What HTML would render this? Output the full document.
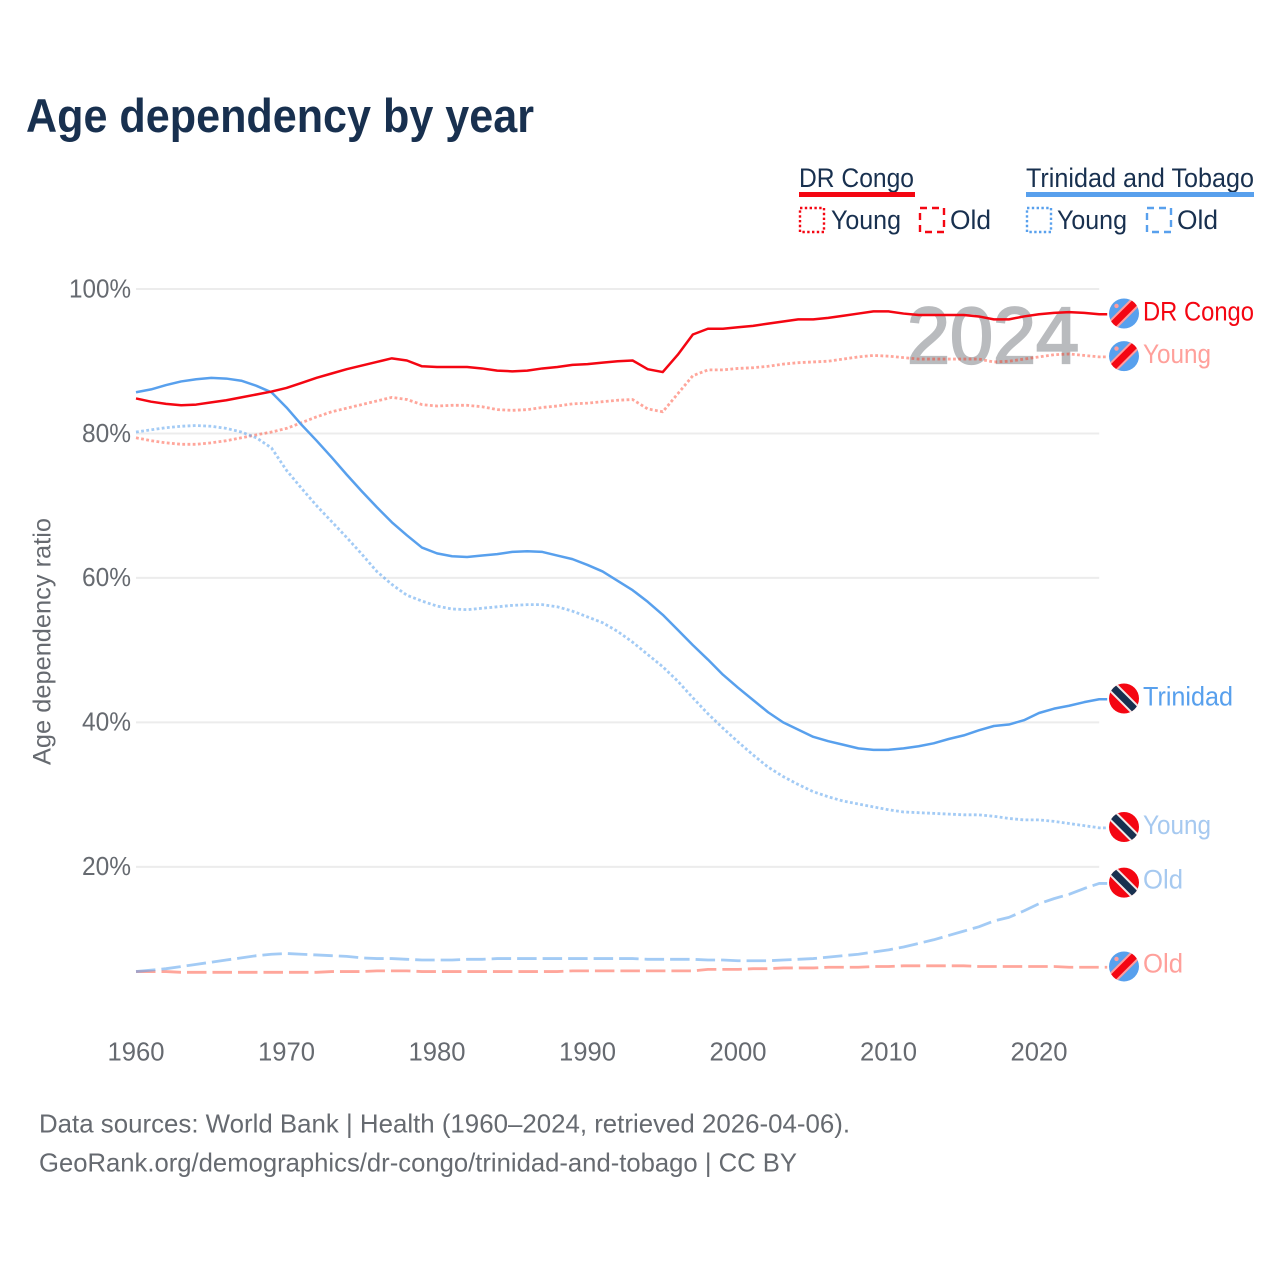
<!DOCTYPE html>
<html lang="en">
<head>
<meta charset="utf-8">
<title>Age dependency by year</title>
<style>
html,body{margin:0;padding:0;background:#fff}
svg{display:block;font-family:"Liberation Sans",sans-serif}
</style>
</head>
<body>
<svg id="chart" xmlns="http://www.w3.org/2000/svg" width="1280" height="1280" viewBox="0 0 1280 1280">
  <rect width="1280" height="1280" fill="#ffffff"/>
  <text x="26" y="132" font-size="47" font-weight="700" fill="#18304f" textLength="508" lengthAdjust="spacingAndGlyphs">Age dependency by year</text>

  <g font-size="27" fill="#18304f">
    <text x="799" y="187" textLength="115" lengthAdjust="spacingAndGlyphs">DR Congo</text>
    <rect x="799" y="192" width="116" height="5" fill="#f40612"/>
    <text x="1026" y="187" textLength="228" lengthAdjust="spacingAndGlyphs">Trinidad and Tobago</text>
    <rect x="1026" y="192" width="228" height="5" fill="#58a0ed"/>

    <rect x="800" y="208" width="24" height="24" fill="none" stroke="#f40612" stroke-width="2.4" stroke-dasharray="2.4 2.4"/>
    <text x="831" y="229" textLength="70" lengthAdjust="spacingAndGlyphs">Young</text>
    <rect x="920" y="208" width="24" height="24" fill="none" stroke="#f40612" stroke-width="2.4" stroke-dasharray="7 5"/>
    <text x="950" y="229" textLength="41" lengthAdjust="spacingAndGlyphs">Old</text>
    <rect x="1027" y="208" width="24" height="24" fill="none" stroke="#58a0ed" stroke-width="2.4" stroke-dasharray="2.4 2.4"/>
    <text x="1057" y="229" textLength="70" lengthAdjust="spacingAndGlyphs">Young</text>
    <rect x="1147" y="208" width="24" height="24" fill="none" stroke="#58a0ed" stroke-width="2.4" stroke-dasharray="7 5"/>
    <text x="1177" y="229" textLength="41" lengthAdjust="spacingAndGlyphs">Old</text>
  </g>

  <g id="grid"></g>
  <g id="y-ticks"></g>
  <g id="x-ticks"></g>
  <text transform="translate(50.5,641.5) rotate(-90)" text-anchor="middle" font-size="25" fill="#666a70" textLength="247" lengthAdjust="spacingAndGlyphs">Age dependency ratio</text>
  <text x="907" y="363" font-size="80" font-weight="400" fill="#b9bbbe" stroke="#b9bbbe" stroke-width="2.2" textLength="172" lengthAdjust="spacingAndGlyphs">2024</text>
  <g id="series"></g>
  <g id="end-labels"></g>

  <g font-size="26" fill="#666a70">
    <text x="39" y="1132.5" textLength="811" lengthAdjust="spacingAndGlyphs">Data sources: World Bank | Health (1960–2024, retrieved 2026-04-06).</text>
    <text x="39" y="1171.5" textLength="758" lengthAdjust="spacingAndGlyphs">GeoRank.org/demographics/dr-congo/trinidad-and-tobago | CC BY</text>
  </g>
</svg>
<script>
const years = [1960,1961,1962,1963,1964,1965,1966,1967,1968,1969,
  1970,1971,1972,1973,1974,1975,1976,1977,1978,1979,
  1980,1981,1982,1983,1984,1985,1986,1987,1988,1989,
  1990,1991,1992,1993,1994,1995,1996,1997,1998,1999,
  2000,2001,2002,2003,2004,2005,2006,2007,2008,2009,
  2010,2011,2012,2013,2014,2015,2016,2017,2018,2019,
  2020,2021,2022,2023,2024];
const congoTotal = [84.85,84.4,84.1,83.9,84.0,84.3,84.6,85.0,85.4,85.8,
  86.3,87.0,87.7,88.3,88.9,89.4,89.9,90.4,90.1,89.3,
  89.2,89.2,89.2,89.0,88.7,88.6,88.7,89.0,89.2,89.5,
  89.6,89.8,90.0,90.1,88.9,88.5,90.9,93.7,94.5,94.5,
  94.7,94.9,95.2,95.5,95.8,95.8,96.0,96.3,96.6,96.9,
  96.9,96.6,96.4,96.4,96.4,96.4,96.2,95.8,95.8,96.2,
  96.5,96.7,96.8,96.7,96.5];
const congoYoung = [79.4,79.0,78.7,78.5,78.5,78.7,79.0,79.4,79.8,80.2,
  80.7,81.5,82.3,83.0,83.5,84.0,84.5,85.0,84.7,84.0,
  83.8,83.9,83.9,83.7,83.3,83.2,83.3,83.6,83.8,84.1,
  84.2,84.4,84.6,84.7,83.4,83.0,85.5,88.0,88.8,88.8,
  89.0,89.1,89.3,89.6,89.8,89.9,90.0,90.3,90.6,90.8,
  90.7,90.5,90.3,90.3,90.3,90.3,90.3,89.9,90.0,90.3,
  90.6,90.9,91.0,90.8,90.6];
const congoOld = [5.5,5.5,5.5,5.4,5.4,5.4,5.4,5.4,5.4,5.4,
  5.4,5.4,5.4,5.5,5.5,5.5,5.6,5.6,5.6,5.5,
  5.5,5.5,5.5,5.5,5.5,5.5,5.5,5.5,5.5,5.6,
  5.6,5.6,5.6,5.6,5.6,5.6,5.6,5.6,5.8,5.8,
  5.8,5.9,5.9,6.0,6.0,6.0,6.1,6.1,6.1,6.2,
  6.2,6.3,6.3,6.3,6.3,6.3,6.2,6.2,6.2,6.2,
  6.2,6.2,6.1,6.1,6.1];
const trinidadTotal = [85.7,86.1,86.7,87.2,87.5,87.7,87.6,87.3,86.6,85.7,
  83.6,81.2,79.0,76.7,74.3,72.0,69.8,67.7,65.9,64.2,
  63.4,63.0,62.9,63.1,63.3,63.6,63.7,63.6,63.1,62.6,
  61.8,60.9,59.6,58.3,56.7,54.9,52.8,50.7,48.7,46.6,
  44.8,43.1,41.4,40.0,39.0,38.0,37.4,36.9,36.4,36.2,
  36.2,36.4,36.7,37.1,37.7,38.2,38.9,39.5,39.7,40.3,
  41.3,41.9,42.3,42.8,43.2];
const trinidadYoung = [80.2,80.5,80.8,81.0,81.1,81.0,80.7,80.2,79.4,78.0,
  74.9,72.4,70.0,67.8,65.6,63.3,60.9,59.1,57.6,56.8,
  56.1,55.7,55.6,55.8,56.0,56.2,56.3,56.3,56.0,55.4,
  54.6,53.8,52.6,51.1,49.4,47.7,45.7,43.4,41.2,39.2,
  37.3,35.5,33.8,32.5,31.4,30.4,29.7,29.1,28.7,28.3,
  27.9,27.6,27.5,27.4,27.3,27.2,27.2,27.0,26.7,26.5,
  26.5,26.3,26.0,25.7,25.4];
const trinidadOld = [5.5,5.7,5.9,6.2,6.5,6.8,7.1,7.4,7.7,7.9,
  8.0,7.9,7.8,7.7,7.6,7.4,7.3,7.3,7.2,7.1,
  7.1,7.1,7.2,7.2,7.3,7.3,7.3,7.3,7.3,7.3,
  7.3,7.3,7.3,7.3,7.2,7.2,7.2,7.2,7.1,7.1,
  7.0,7.0,7.0,7.1,7.2,7.3,7.5,7.7,7.9,8.2,
  8.5,8.9,9.4,9.9,10.5,11.1,11.7,12.5,13.0,13.9,
  14.9,15.6,16.2,17.0,17.7];
const yTickValues = [20,40,60,80,100];
const yTickLabels = ['20%','40%','60%','80%','100%'];
const xTickValues = [1960,1970,1980,1990,2000,2010,2020];
const xTickLabels = ['1960','1970','1980','1990','2000','2010','2020'];

const SVGNS = 'http://www.w3.org/2000/svg';
const RED = '#f40612';
const SALMON = '#ff2a10';
const BLUE = '#58a0ed';
const DOTTED = '2.8 2.4';
const DASHED = '19.5 6';
const xScale = y => 136 + (y - 1960) * (1099.2 - 136) / 64;
const yScale = v => 1011.3 - v * (1011.3 - 289) / 100;

function make(tag, parent, attrs) {
  const el = document.createElementNS(SVGNS, tag);
  for (const k in attrs) el.setAttribute(k, attrs[k]);
  parent.appendChild(el);
  return el;
}

const gridG = document.getElementById('grid');
const yG = document.getElementById('y-ticks');
yTickValues.forEach((v, i) => {
  const line = make('line', gridG, {x1: xScale(1960), x2: xScale(2024), y1: yScale(v), y2: yScale(v), stroke: '#ececec', 'stroke-width': 2});
  
  
  const t = make('text', yG, {x: 131, y: yScale(v) + 8.3, 'text-anchor': 'end', 'font-size': 26, fill: '#666a70', textLength: v === 100 ? 62 : 49, lengthAdjust: 'spacingAndGlyphs'});
  t.textContent = yTickLabels[i];
  
  
});

const xG = document.getElementById('x-ticks');
xTickValues.forEach((v, i) => {
  const t = make('text', xG, {x: xScale(v), y: 1060.5, 'text-anchor': 'middle', 'font-size': 26, fill: '#666a70', textLength: 57, lengthAdjust: 'spacingAndGlyphs'});
  t.textContent = xTickLabels[i];
  
  
});

const seriesG = document.getElementById('series');
function drawLine(name, values, color, opacity, dash, width) {
  const last = values[values.length - 1];
  const pts = values.map((v, i) => xScale(years[i]).toFixed(2) + ',' + yScale(v).toFixed(2));
  pts.push((xScale(years[years.length - 1]) + 8).toFixed(2) + ',' + yScale(last).toFixed(2));
  const attrs = {points: pts.join(' '), fill: 'none', stroke: color, 'stroke-width': width, 'stroke-opacity': opacity, 'stroke-linejoin': 'round'};
  if (dash) attrs['stroke-dasharray'] = dash;
  const el = make('polyline', seriesG, attrs);
  
  
}
drawLine('line-congo-old', congoOld, SALMON, 0.42, DASHED, 2.8);
drawLine('line-trinidad-old', trinidadOld, BLUE, 0.55, DASHED, 2.8);
drawLine('line-congo-young', congoYoung, SALMON, 0.42, DOTTED, 2.8);
drawLine('line-trinidad-young', trinidadYoung, BLUE, 0.55, DOTTED, 2.8);
drawLine('line-trinidad-total', trinidadTotal, BLUE, 1, null, 2.5);
drawLine('line-congo-total', congoTotal, RED, 1, null, 2.5);

const labelsG = document.getElementById('end-labels');
let flagCount = 0;
function drawFlag(kind, cy) {
  flagCount += 1;
  const id = 'flag-clip-' + flagCount;
  const g = make('g', labelsG, {transform: 'translate(1124,' + cy.toFixed(2) + ')'});
  
  
  const clip = make('clipPath', g, {id: id});
  make('circle', clip, {r: 15});
  const inner = make('g', g, {'clip-path': 'url(#' + id + ')'});
  if (kind === 'congo') {
    make('rect', inner, {x: -16, y: -16, width: 32, height: 32, fill: BLUE});
    make('line', inner, {x1: -16, y1: 16, x2: 16, y2: -16, stroke: '#ff9d9d', 'stroke-width': 11});
    make('line', inner, {x1: -16, y1: 16, x2: 16, y2: -16, stroke: RED, 'stroke-width': 7});
    make('circle', inner, {cx: -7.5, cy: -7.5, r: 2.2, fill: '#ff9d9d'});
  } else {
    make('rect', inner, {x: -16, y: -16, width: 32, height: 32, fill: RED});
    make('line', inner, {x1: -16, y1: -16, x2: 16, y2: 16, stroke: '#f3e9e9', 'stroke-width': 11});
    make('line', inner, {x1: -16, y1: -16, x2: 16, y2: 16, stroke: '#18304f', 'stroke-width': 7});
  }
}
function drawEndLabel(name, text, values, kind, color, width, shift) {
  const cy = yScale(values[values.length - 1]);
  drawFlag(kind, cy - 0.8);
  const t = make('text', labelsG, {x: 1143, y: cy + 8.5 + shift, 'font-size': 27, fill: color, textLength: width, lengthAdjust: 'spacingAndGlyphs'});
  t.textContent = text;
  
  
}
drawEndLabel('end-label-congo-total', 'DR Congo', congoTotal, 'congo', RED, 111, -2.5);
drawEndLabel('end-label-congo-young', 'Young', congoYoung, 'congo', '#ffa09b', 68, -2.5);
drawEndLabel('end-label-trinidad-total', 'Trinidad', trinidadTotal, 'trinidad', BLUE, 90, -2.5);
drawEndLabel('end-label-trinidad-young', 'Young', trinidadYoung, 'trinidad', '#a6c9f0', 68, -2.5);
drawEndLabel('end-label-trinidad-old', 'Old', trinidadOld, 'trinidad', '#a6c9f0', 40, -3.5);
drawEndLabel('end-label-congo-old', 'Old', congoOld, 'congo', '#ffa09b', 40, -3);
</script>
</body>
</html>
